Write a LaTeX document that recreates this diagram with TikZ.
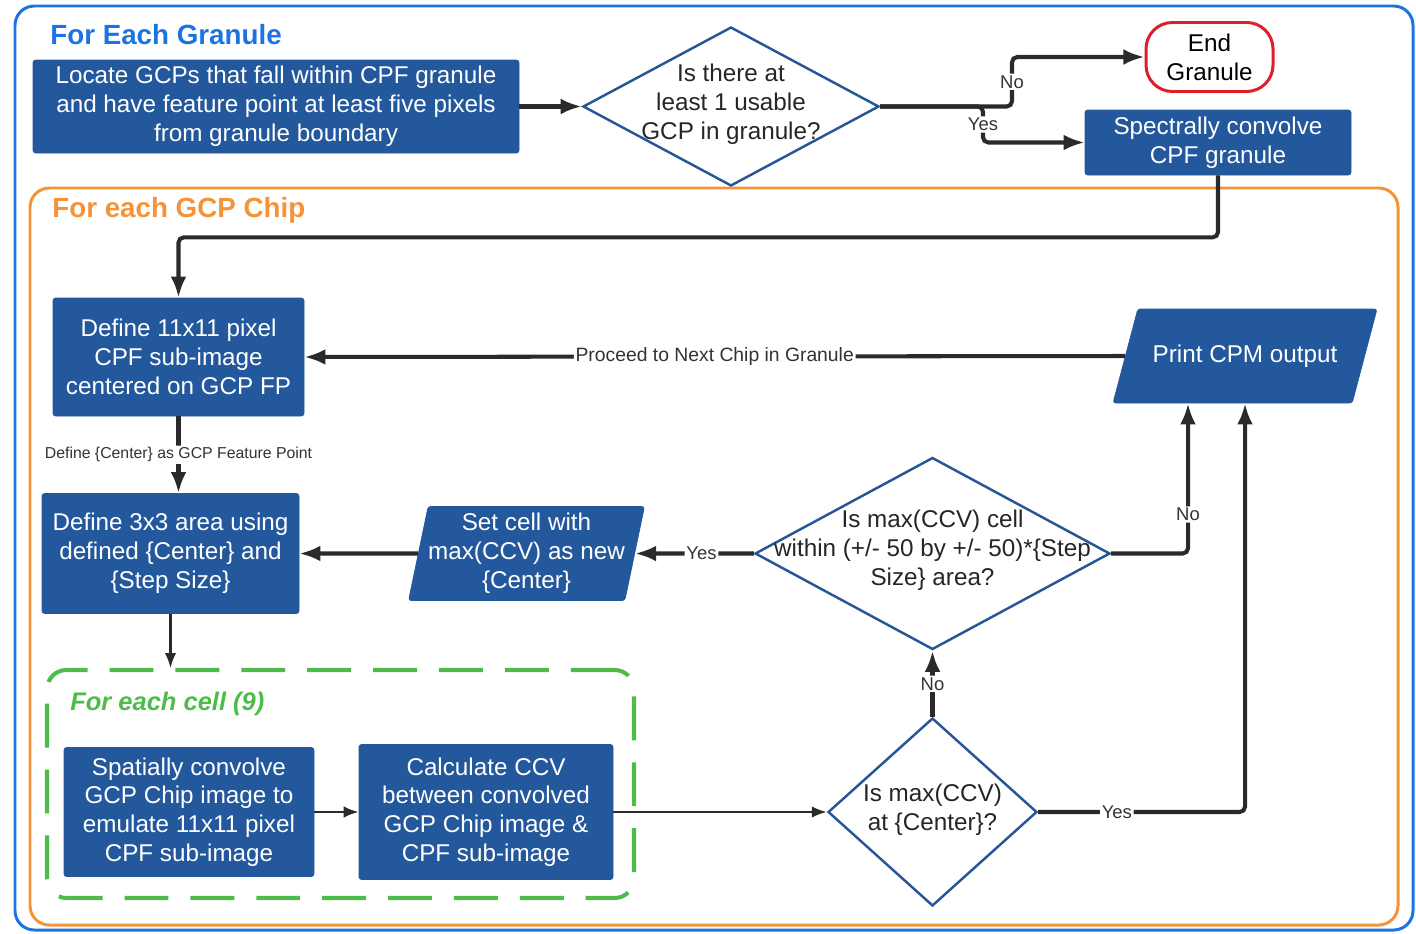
\documentclass[tikz,border=0pt]{standalone}
\usepackage{fontspec}
\setmainfont{Liberation Sans}
\usepackage{xcolor}
\usepackage{tikz}
\usetikzlibrary{calc, shapes.geometric, positioning, arrows.meta}

\definecolor{frameblue}{RGB}{28,116,226}
\definecolor{chiporange}{RGB}{245,146,58}
\definecolor{cellgreen}{RGB}{78,188,74}
\definecolor{boxblue}{RGB}{36,88,156}
\definecolor{edgeblue}{RGB}{38,86,152}
\definecolor{endred}{RGB}{222,30,40}
\definecolor{linegray}{RGB}{42,42,42}

\newcommand{\pxu}{0.02cm}
\newcommand{\boxfont}{\fontsize{13.8}{16.4}\selectfont}
\newcommand{\titlefont}{\fontsize{15.8}{18}\selectfont\bfseries}
\newcommand{\tagfont}{\fontsize{10.5}{12}\selectfont}

\begin{document}
\begin{tikzpicture}[x=0.02cm, y=-0.02cm, >={Latex[length=12pt,width=9pt]},
    procbox/.style={rectangle, rounded corners=1.5pt, fill=boxblue, draw=boxblue, text=white, font=\boxfont, align=center, inner sep=0pt},
    iobox/.style={trapezium, trapezium stretches body=true, rounded corners=1.5pt, fill=boxblue, draw=boxblue, text=white, font=\boxfont, align=center, inner xsep=0pt},
    decision/.style={diamond, draw=edgeblue, line width=1.4pt, fill=white, inner sep=0pt},
    qtext/.style={font=\boxfont, align=center, text=black!85},
    cellgroup/.style={draw=cellgreen, line width=2.3pt, rounded corners=11pt, dash pattern=on 25pt off 12.5pt},
    flow/.style={->, draw=linegray, line width=2.3pt, rounded corners=3pt},
    thinflow/.style={-{Latex[length=8.5pt,width=6.5pt]}, draw=linegray, line width=1.2pt},
    tag/.style={font=\tagfont, fill=white, inner sep=1pt, text=black!80}]
    \useasboundingbox (0,0) rectangle (1416,933);

    % 1. Frames: granule loop (blue) and chip loop (orange)
    \draw[frameblue, line width=1.7pt, rounded corners=11pt] (15,6) rectangle (1413,930);
    \draw[chiporange, line width=1.7pt, rounded corners=11pt] (30,188) rectangle (1398,925);
    \node[anchor=west, inner sep=0pt, text=frameblue, font=\titlefont] (granuletitle) at (50,35) {For Each Granule};
    \node[anchor=west, inner sep=0pt, text=chiporange, font=\titlefont] (chiptitle) at (52,210) {For each GCP Chip};

    % 2. Granule level
    \node[procbox, minimum width=486*\pxu, minimum height=93*\pxu] (locate) at (276,106.5)
        {Locate GCPs that fall within CPF granule\\and have feature point at least five pixels\\from granule boundary};
    \node[decision, minimum width=296*\pxu, minimum height=159*\pxu] (d1) at (731,106.5) {};
    \node[qtext] (d1t) at (731,104) {Is there at\\least 1 usable\\GCP in granule?};
    \node[procbox, fill=white, draw=endred, text=black, line width=1.7pt, rounded corners=15pt,
        minimum width=127*\pxu, minimum height=69*\pxu] (endg) at (1209.5,57) {End\\Granule};
    \node[procbox, minimum width=266*\pxu, minimum height=65*\pxu] (spec) at (1218,142.5) {Spectrally convolve\\CPF granule};

    % 3. Chip level
    \node[procbox, minimum width=251*\pxu, minimum height=118*\pxu] (def11) at (178.5,357)
        {Define 11x11 pixel\\CPF sub-image\\centered on GCP FP};
    \node[iobox, trapezium left angle=75, trapezium right angle=105, inner ysep=35*\pxu,
        minimum width=264*\pxu, minimum height=94*\pxu] (print) at (1245,356) {Print CPM output};
    \node[procbox, minimum width=257*\pxu, minimum height=120*\pxu] (def3) at (170.5,553.5)
        {Define 3x3 area using\\defined \{Center\} and\\\{Step Size\}};
    \node[iobox, trapezium left angle=78, trapezium right angle=102, inner ysep=6*\pxu,
        minimum width=233*\pxu, minimum height=94*\pxu] (setc) at (526.5,553.5)
        {Set cell with\\max(CCV) as new\\\{Center\}};
    \node[decision, minimum width=355*\pxu, minimum height=192*\pxu] (d2) at (932.5,553.5) {};
    \node[qtext] (d2t) at (932.5,550) {Is max(CCV) cell\\within (+/- 50 by +/- 50)*\{Step\\Size\} area?};

    % 4. Cell level (dashed group)
    \node[cellgroup, minimum width=587*\pxu, minimum height=228*\pxu] (cellgrp) at (340.5,784) {};
    \node[anchor=west, inner sep=0pt, text=cellgreen, font=\fontsize{14.5}{17}\selectfont\bfseries\itshape] (celltitle) at (70,704) {For each cell (9)};
    \node[procbox, minimum width=250*\pxu, minimum height=129*\pxu] (spat) at (189,812)
        {Spatially convolve\\GCP Chip image to\\emulate 11x11 pixel\\CPF sub-image};
    \node[procbox, minimum width=254*\pxu, minimum height=135*\pxu] (calc) at (486,812)
        {Calculate CCV\\between convolved\\GCP Chip image \&\\CPF sub-image};
    \node[decision, minimum width=209*\pxu, minimum height=188*\pxu] (d3) at (932.5,812) {};
    \node[qtext] (d3t) at (932.5,810) {Is max(CCV)\\at \{Center\}?};

    % 5. Connectors
    \draw[flow] (locate.east) -- (d1.west);
    \draw[flow] (d1.east) -- (1012,106.5) |- (endg.west) node[tag, pos=0.25] {No};
    \draw[flow] (d1.east) -- (983,106.5) |- (spec.west) node[tag, pos=0.25] {Yes};
    \draw[flow] (spec.south) -- ++(0,62) -| (def11.north);
    \draw[flow] (print.west) -- (def11.east)
        node[tag, midway, font=\fontsize{11}{13}\selectfont] {Proceed to Next Chip in Granule};
    \draw[flow] (def11.south) -- (def11.south |- def3.north)
        node[tag, midway, font=\fontsize{9}{11}\selectfont] {Define \{Center\} as GCP Feature Point};
    \draw[thinflow] (def3.south) -- (def3.south |- cellgrp.north);
    \draw[thinflow] (spat.east) -- (calc.west);
    \draw[thinflow] (calc.east) -- (d3.west);
    \draw[flow] (d3.north) -- (d2.south) node[tag, midway] {No};
    \draw[flow] (d3.east) -| (print.south) node[tag, pos=0.19] {Yes};
    \draw[flow] (d2.east) -| ([xshift=-57*\pxu]print.south) node[tag, pos=0.63] {No};
    \draw[flow] (d2.west) -- (setc.east) node[tag, pos=0.44] {Yes};
    \draw[flow] (setc.west) -- (def3.east);

\end{tikzpicture}
\end{document}
